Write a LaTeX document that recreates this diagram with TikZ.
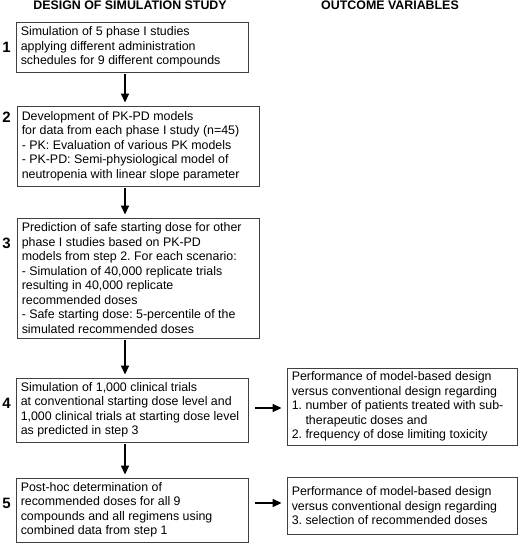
\documentclass[tikz,border=0pt]{standalone}
\usepackage{fontspec}
\setmainfont{Liberation Sans}
\usetikzlibrary{arrows.meta}
\frenchspacing
\begin{document}
\begin{tikzpicture}[x=1pt,y=-1pt,
  frame/.style={draw=black!75, line width=0.9pt, inner sep=0pt},
  txt/.style={align=left, inner sep=0pt, anchor=west, font=\fontsize{12.4}{14.5}\selectfont},
  head/.style={font=\fontsize{12.4}{14.5}\selectfont\bfseries, anchor=base, inner sep=0pt},
  num/.style={font=\fontsize{15}{16}\selectfont\bfseries, inner sep=0pt},
  arr/.style={line width=1.6pt, -{Triangle[width=8pt,length=9pt]}}]
\useasboundingbox (0,0) rectangle (520,543);
\node[head] (h1) at (130,10) {DESIGN OF SIMULATION STUDY};
\node[head] (h2) at (390,10) {OUTCOME VARIABLES};

\node[frame, minimum width=232pt, minimum height=50pt] (b1) at (132,47) {};
\node[frame, minimum width=242pt, minimum height=80pt] (b2) at (138,146) {};
\node[frame, minimum width=242pt, minimum height=120pt] (b3) at (138,278) {};
\node[frame, minimum width=232pt, minimum height=64pt] (b4) at (132,410) {};
\node[frame, minimum width=232pt, minimum height=64pt] (b5) at (132,510) {};
\node[frame, minimum width=230pt, minimum height=77pt] (r4) at (402,406.5) {};
\node[frame, minimum width=230pt, minimum height=57pt] (r5) at (402,506) {};

\node[txt] (t1) at ([xshift=5pt]b1.west)
 {Simulation of 5 phase I studies\\applying different administration\\schedules for 9 different compounds};
\node[txt] (t2) at ([xshift=5pt]b2.west)
 {Development of PK-PD models\\for data from each phase I study (n=45)\\- PK: Evaluation of various PK models\\- PK-PD: Semi-physiological model of\\neutropenia with linear slope parameter};
\node[txt] (t3) at ([xshift=5pt]b3.west)
 {Prediction of safe starting dose for other\\phase I studies based on PK-PD\\models from step 2. For each scenario:\\- Simulation of 40,000 replicate trials\\resulting in 40,000 replicate\\recommended doses\\- Safe starting dose: 5-percentile of the\\simulated recommended doses};
\node[txt] (t4) at ([xshift=5pt]b4.west)
 {Simulation of 1,000 clinical trials\\at conventional starting dose level and\\1,000 clinical trials at starting dose level\\as predicted in step 3};
\node[txt] (t5) at ([xshift=5pt]b5.west)
 {Post-hoc determination of\\recommended doses for all 9\\compounds and all regimens using\\combined data from step 1};
\node[txt] (tr4) at ([xshift=5pt]r4.west)
 {Performance of model-based design\\versus conventional design regarding\\1. number of patients treated with sub-\\\phantom{1. }therapeutic doses and\\2. frequency of dose limiting toxicity};
\node[txt] (tr5) at ([xshift=5pt]r5.west)
 {Performance of model-based design\\versus conventional design regarding\\3. selection of recommended doses};

\node[num] (n1) at (6.5,47) {1};
\node[num] (n2) at (6.5,117) {2};
\node[num] (n3) at (6.5,243) {3};
\node[num] (n4) at (6.5,403) {4};
\node[num] (n5) at (6.5,503) {5};

\coordinate (ax) at (125,0);
\coordinate (ay4) at (0,408);
\coordinate (ay5) at (0,503);
\draw[arr, shorten <=2pt, shorten >=3pt] (b1.south -| ax) -- (b2.north -| ax);
\draw[arr, shorten <=2pt, shorten >=3pt] (b2.south -| ax) -- (b3.north -| ax);
\draw[arr, shorten <=2pt, shorten >=3pt] (b3.south -| ax) -- (b4.north -| ax);
\draw[arr, shorten <=2pt, shorten >=3pt] (b4.south -| ax) -- (b5.north -| ax);
\draw[arr, shorten <=7pt, shorten >=5pt] (b4.east |- ay4) -- (r4.west |- ay4);
\draw[arr, shorten <=7pt, shorten >=5pt] (b5.east |- ay5) -- (r5.west |- ay5);
\end{tikzpicture}
\end{document}
